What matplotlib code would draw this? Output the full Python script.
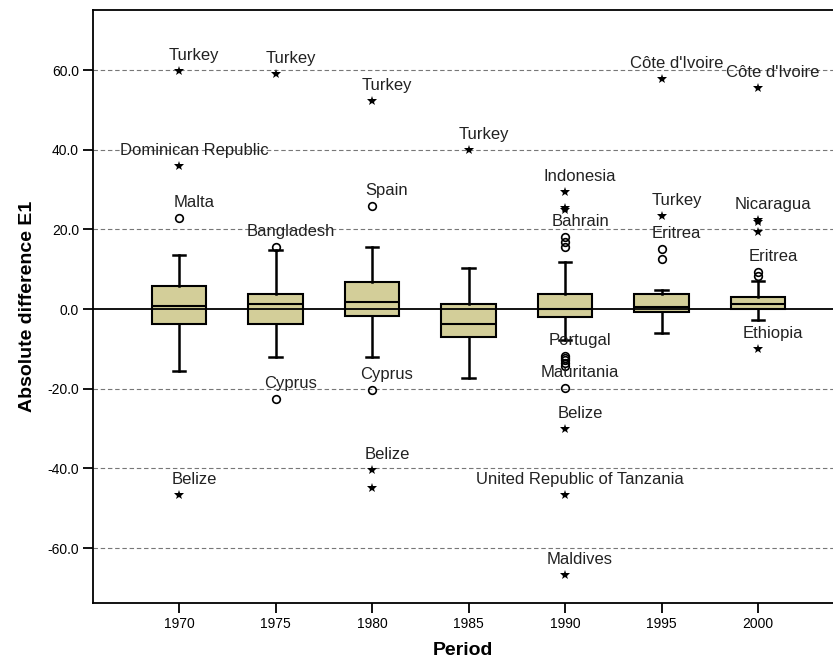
import matplotlib.pyplot as plt

plt.rcParams['font.family'] = ['Liberation Sans', 'DejaVu Sans']

# box statistics per period
periods = [1970, 1975, 1980, 1985, 1990, 1995, 2000]
q1 = [-3.85, -3.85, -1.7, -7.1, -1.9, -0.8, -0.1]
med = [0.9, 1.4, 1.85, -3.7, 0.1, 0.6, 1.4]
q3 = [5.8, 3.9, 6.9, 1.2, 3.9, 3.9, 3.1]
whislo = [-15.6, -12.0, -12.0, -17.3, -7.8, -5.9, -2.8]
whishi = [13.6, 14.8, 15.6, 10.4, 11.9, 4.9, 7.1]

# outliers (circles) and extremes (stars)
outliers = [
    [22.9],
    [15.6, -22.6],
    [26.0, -20.4],
    [],
    [18.2, 16.9, 15.5, -11.8, -12.2, -12.8, -13.6, -14.3, -19.9],
    [15.2, 12.7],
    [9.2, 8.3],
]
extremes = [
    [59.8, 36.0, -46.7],
    [59.0],
    [52.3, -40.5, -44.9],
    [40.0],
    [29.5, 25.4, 24.8, -30.2, -46.7, -66.8],
    [57.8, 23.4],
    [55.4, 22.4, 21.8, 19.3, -9.9],
]

# labelled cases
label_period = [1970, 1970, 1970, 1970,
                1975, 1975, 1975,
                1980, 1980, 1980, 1980,
                1985,
                1990, 1990, 1990, 1990, 1990, 1990, 1990,
                1995, 1995, 1995,
                2000, 2000, 2000, 2000]
label_value = [59.8, 36.0, 22.9, -46.7,
               59.0, 15.6, -22.6,
               52.3, 26.0, -20.4, -40.5,
               40.0,
               29.5, 18.2, -11.8, -19.9, -30.2, -46.7, -66.8,
               57.8, 23.4, 15.2,
               55.4, 22.4, 9.2, -9.9]
label_text = ["Turkey", "Dominican Republic", "Malta", "Belize",
              "Turkey", "Bangladesh", "Cyprus",
              "Turkey", "Spain", "Cyprus", "Belize",
              "Turkey",
              "Indonesia", "Bahrain", "Portugal", "Mauritania", "Belize",
              "United Republic of Tanzania", "Maldives",
              "C\u00f4te d'Ivoire", "Turkey", "Eritrea",
              "C\u00f4te d'Ivoire", "Nicaragua", "Eritrea", "Ethiopia"]

fig = plt.figure(figsize=(8.33, 6.69), dpi=100)
ax = fig.add_axes([93 / 833, 66 / 669, 740 / 833, 593 / 669])

stats = []
for i, p in enumerate(periods):
    stats.append(dict(q1=q1[i], med=med[i], q3=q3[i],
                      whislo=whislo[i], whishi=whishi[i], fliers=[]))

ax.bxp(stats, positions=periods, widths=2.8, capwidths=0.66,
       showfliers=False, patch_artist=True,
       boxprops=dict(facecolor='#d3ce99', edgecolor='black', linewidth=1.5),
       medianprops=dict(color='black', linewidth=1.5),
       whiskerprops=dict(color='black', linewidth=1.8),
       capprops=dict(color='black', linewidth=1.8))

for i, p in enumerate(periods):
    if outliers[i]:
        ax.plot([p] * len(outliers[i]), outliers[i], 'o', ms=5.5,
                mfc='none', mec='black', mew=1.2, zorder=4)
    ax.plot([p] * len(extremes[i]), extremes[i], '*', ms=7,
            color='black', mew=0, zorder=4)

for p, v, t in zip(label_period, label_value, label_text):
    ax.annotate(t, (p, v), xytext=(15, 11), textcoords='offset pixels',
                ha='center', va='baseline', fontsize=12, color='#222222',
                zorder=5)

# reference lines
for g in [-60, -40, -20, 20, 40, 60]:
    ax.axhline(g, color='#777777', lw=0.8, ls=(0, (4, 2.5)), zorder=1)
ax.axhline(0, color='black', lw=1.3, zorder=3)

ax.set_xlim(1970 - 4.456, 1970 - 4.456 + 740 / 96.5 * 5)
ax.set_ylim(-73.8, 75.1)
ax.set_xticks(periods)
ax.set_xticklabels([str(p) for p in periods])
ax.set_yticks([-60, -40, -20, 0, 20, 40, 60])
ax.set_yticklabels(["%.1f" % v for v in [-60, -40, -20, 0, 20, 40, 60]])

ax.spines['right'].set_visible(False)
for s in ['top', 'bottom', 'left']:
    ax.spines[s].set_linewidth(1.3)
ax.tick_params(axis='both', length=7, width=1.3, labelsize=10,
               direction='out', pad=3, colors='black')

ax.set_xlabel('Period', fontsize=14, fontweight='bold', labelpad=8)
ax.set_ylabel('Absolute difference E1', fontsize=14, fontweight='bold',
              labelpad=8)

fig.savefig('out.png', dpi=100)
